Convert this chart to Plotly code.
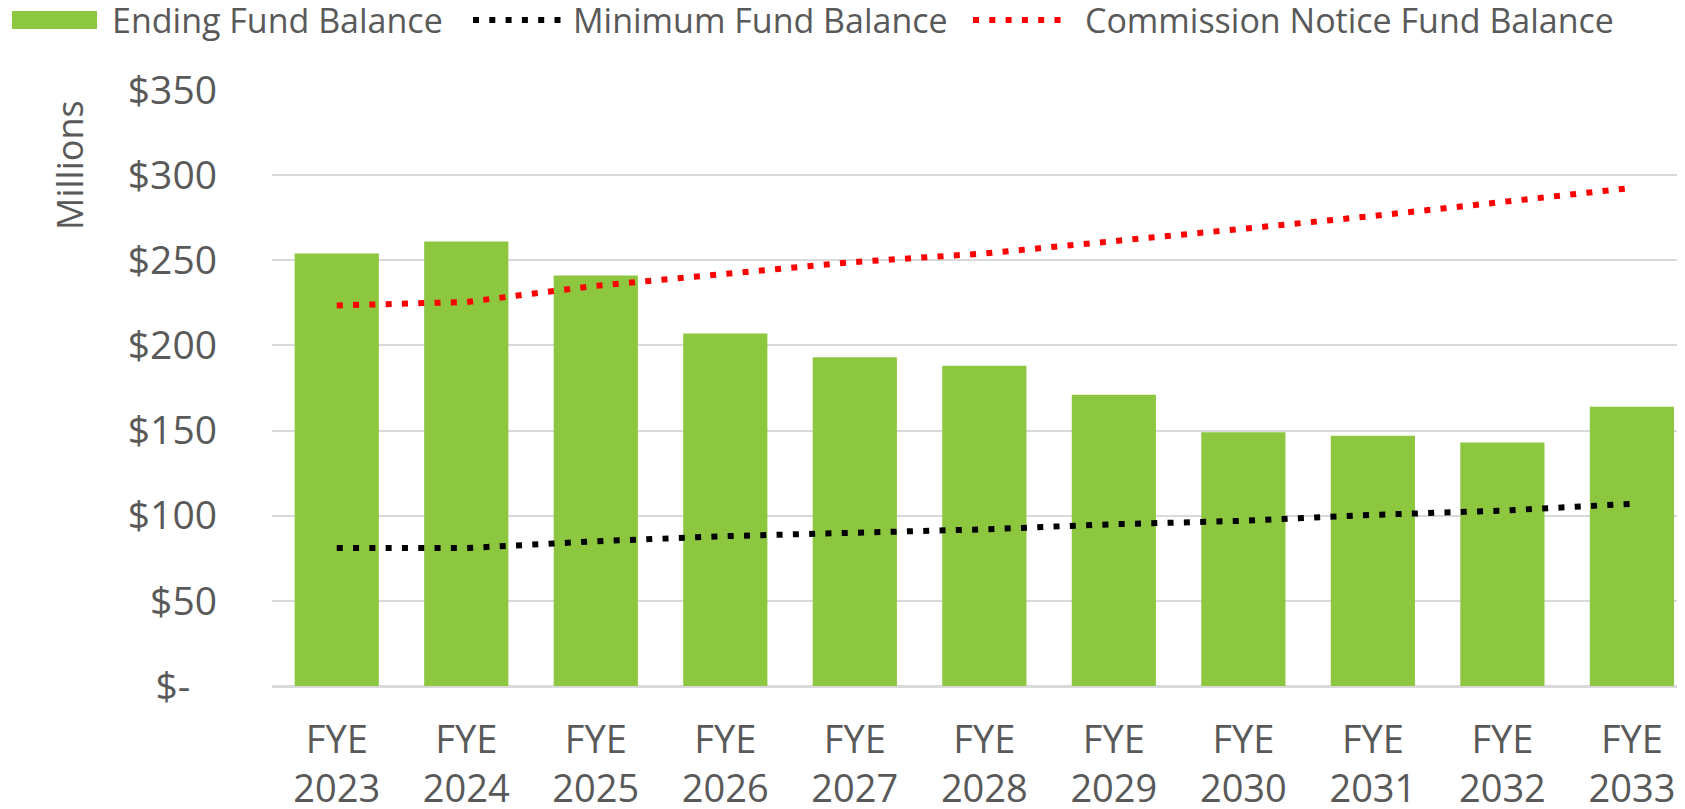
import plotly.graph_objects as go

years = ["2023", "2024", "2025", "2026", "2027", "2028", "2029", "2030", "2031", "2032", "2033"]
x_labels = ["FYE<br>" + y for y in years]
ending_balance = [254, 261, 241, 207, 193, 188, 171, 149, 147, 143, 164]
minimum_balance = [81, 81, 85, 88, 90, 92, 95, 97, 100.5, 103, 107]
commission_notice = [223.5, 225.5, 235, 242, 249, 254, 261, 268.5, 276, 284, 292.5]
y_tickvals = [0, 50, 100, 150, 200, 250, 300, 350]
y_ticktext = ["$-\u00a0\u00a0\u2009", "$50", "$100", "$150", "$200", "$250", "$300", "$350"]
series_names = ["Ending Fund Balance", "Minimum Fund Balance", "Commission Notice Fund Balance"]

GREEN = "#8DC63F"
BLACK = "#000000"
RED = "#FF0000"
TXT = "#595959"
FONT = "Open Sans"
DOT = "6px,10.3px"

# page body has an 8px default margin, so the figure is laid out 8px smaller
W, H = 1677, 801
L, T, B = 264, 82, 123

fig = go.Figure()
fig.add_trace(go.Bar(
    x=years, y=ending_balance, name=series_names[0],
    marker=dict(color=GREEN, line=dict(width=0)),
    width=0.65, showlegend=False,
))
fig.add_trace(go.Scatter(
    x=years, y=minimum_balance, mode="lines", name=series_names[1],
    line=dict(color=BLACK, width=6, dash=DOT), showlegend=False,
))
fig.add_trace(go.Scatter(
    x=years, y=commission_notice, mode="lines", name=series_names[2],
    line=dict(color=RED, width=6, dash=DOT), showlegend=False,
))

# legend drawn along the top (positions in figure pixels)
leg_y = 12  # centre line of legend row
shapes = [
    dict(type="rect", xref="paper", yref="paper", xsizemode="pixel", ysizemode="pixel",
         xanchor=0, yanchor=1, x0=4 - L, x1=89 - L, y0=T - 3, y1=T - 21,
         fillcolor=GREEN, line=dict(width=0)),
    dict(type="line", xref="paper", yref="paper", xsizemode="pixel", ysizemode="pixel",
         xanchor=0, yanchor=1, x0=465 - L, x1=553 - L, y0=T - leg_y, y1=T - leg_y,
         line=dict(color=BLACK, width=6, dash=DOT)),
    dict(type="line", xref="paper", yref="paper", xsizemode="pixel", ysizemode="pixel",
         xanchor=0, yanchor=1, x0=965 - L, x1=1053 - L, y0=T - leg_y, y1=T - leg_y,
         line=dict(color=RED, width=6, dash=DOT)),
]
annotations = []
for name, px in zip(series_names, [102, 563, 1075]):
    annotations.append(dict(
        text=name, xref="paper", yref="paper", x=0, y=1,
        xshift=px - L, yshift=T - leg_y, xanchor="left", yanchor="middle",
        showarrow=False, font=dict(size=34, color=TXT, family=FONT),
    ))
annotations.append(dict(
    text="Millions", xref="paper", yref="paper", x=0, y=1,
    xshift=-203, yshift=-75, xanchor="center", yanchor="middle",
    textangle=-90, showarrow=False,
    font=dict(size=36, color=TXT, family=FONT),
))

fig.update_layout(
    width=W, height=H,
    margin=dict(l=L, r=0, t=T, b=B, autoexpand=False),
    paper_bgcolor="white", plot_bgcolor="white",
    font=dict(family=FONT, color=TXT),
    showlegend=False,
    xaxis=dict(
        type="category", range=[-0.5, 10.41],
        tickvals=years, ticktext=x_labels,
        tickfont=dict(size=38, color=TXT, family=FONT),
        showgrid=False, showline=False, ticks="",
        ticklabelstandoff=28, automargin=False,
    ),
    yaxis=dict(
        range=[0, 350], tickvals=y_tickvals, ticktext=y_ticktext,
        tickfont=dict(size=39, color=TXT, family=FONT),
        showgrid=True, gridcolor="#D9D9D9", gridwidth=2,
        zeroline=True, zerolinecolor="#D9D9D9", zerolinewidth=3,
        showline=False, ticks="", ticklabelstandoff=54, automargin=False,
    ),
    shapes=shapes,
    annotations=annotations,
)

fig.write_html("out.html")
